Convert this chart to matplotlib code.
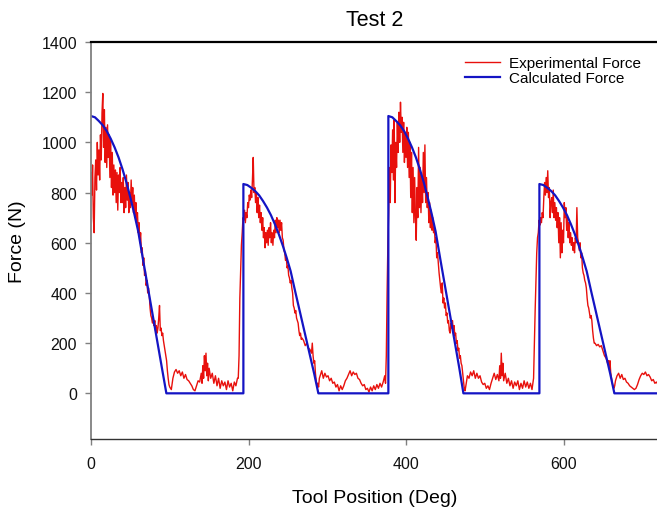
import matplotlib
matplotlib.use("Agg")
import matplotlib.pyplot as plt

plt.rcParams["font.family"] = ["Liberation Sans", "DejaVu Sans"]

# Experimental force as (tool position deg, force N)
exp_cycle1 = [
    (0, 880), (1, 790), (2, 910), (3, 700), (4, 640), (5, 860), (6, 930), (7, 810),
    (8, 1000), (9, 870), (10, 970), (11, 850), (12, 1030), (13, 930), (14, 1120),
    (15, 1195), (16, 980), (17, 1130), (18, 920), (19, 1060), (20, 900), (21, 1070),
    (22, 940), (23, 1030), (24, 860), (25, 1010), (26, 820), (27, 960), (28, 790),
    (29, 910), (30, 800), (31, 890), (32, 760), (33, 880), (34, 730), (35, 870),
    (36, 800), (37, 900), (38, 760), (39, 840), (40, 760), (41, 860), (42, 720),
    (43, 820), (44, 740), (45, 870), (46, 770), (47, 840), (48, 720), (49, 800),
    (50, 740), (51, 850), (52, 760), (53, 820), (54, 720), (55, 790), (56, 700),
    (57, 760), (58, 680), (59, 720), (60, 640), (61, 680), (62, 600), (63, 640),
    (64, 560), (65, 580), (66, 510), (67, 540), (68, 470), (69, 490), (70, 430),
    (71, 450), (72, 400), (73, 420), (74, 390), (75, 340), (76, 310), (77, 300),
    (78, 280), (79, 300), (80, 270), (81, 290), (82, 250), (83, 270), (84, 240),
    (85, 260), (86, 300), (87, 350), (88, 250), (89, 260), (90, 230), (91, 240),
    (92, 210), (93, 190), (94, 170), (95, 150), (96, 130), (97, 90), (98, 60),
    (99, 35), (100, 25), (101, 20), (102, 15),
]
exp_flat1 = [
    (104, 60), (106, 85), (108, 95), (110, 80), (112, 90), (114, 70), (116, 85),
    (118, 60), (120, 75), (122, 55), (124, 50), (126, 40), (128, 30), (130, 15),
    (132, 10), (134, 30), (136, 50), (138, 45), (140, 80), (141, 40), (142, 110),
    (143, 60), (144, 150), (145, 90), (146, 160), (147, 70), (148, 120), (149, 50),
    (150, 100), (152, 60), (154, 80), (156, 40), (158, 70), (160, 30), (162, 60),
    (164, 20), (166, 50), (168, 30), (170, 45), (172, 15), (174, 50), (176, 25),
    (178, 40), (180, 10), (182, 45), (184, 30), (186, 60),
]
exp_cycle2 = [
    (187, 60), (188, 150), (189, 380), (190, 480), (191, 590), (192, 640), (193, 700),
    (194, 690), (195, 730), (196, 680), (197, 720), (198, 700), (199, 760), (200, 740),
    (201, 790), (202, 770), (203, 810), (204, 780), (205, 850), (206, 940), (207, 800),
    (208, 820), (209, 760), (210, 800), (211, 720), (212, 780), (213, 700), (214, 750),
    (215, 680), (216, 720), (217, 650), (218, 700), (219, 620), (220, 660), (221, 580),
    (222, 640), (223, 600), (224, 650), (225, 590), (226, 660), (227, 620), (228, 680),
    (229, 600), (230, 640), (231, 590), (232, 650), (233, 620), (234, 690), (235, 640),
    (236, 700), (237, 660), (238, 690), (239, 640), (240, 690), (241, 650), (242, 680),
    (243, 620), (244, 610), (245, 570), (246, 560), (247, 530), (248, 540), (249, 500),
    (250, 510), (251, 470), (252, 460), (253, 440), (254, 450), (255, 420), (256, 400),
    (257, 350), (258, 340), (259, 320), (260, 330), (261, 300), (262, 290), (263, 280),
    (264, 250), (265, 230), (266, 240), (267, 215), (268, 220), (270, 210), (272, 190),
    (274, 200), (276, 180), (278, 175), (280, 160), (281, 200), (282, 150), (283, 120),
    (284, 130), (285, 80), (286, 50), (287, 30), (288, 40), (289, 25), (290, 60),
]
exp_flat2 = [
    (291, 70), (293, 90), (295, 60), (297, 80), (299, 65), (301, 70), (303, 50),
    (305, 60), (307, 40), (309, 45), (311, 25), (313, 35), (315, 10), (317, 30),
    (319, 15), (321, 30), (323, 50), (325, 60), (327, 75), (329, 90), (331, 70),
    (333, 85), (335, 75), (337, 80), (339, 60), (341, 55), (343, 40), (345, 30),
    (347, 35), (349, 15), (351, 20), (353, 5), (355, 25), (357, 10), (359, 30),
    (361, 15), (363, 35), (365, 20), (367, 40), (369, 25), (371, 45), (373, 70),
    (374, 40), (375, 150), (376, 400), (377, 600),
]
exp_cycle3 = [
    (378, 720), (379, 900), (380, 760), (381, 990), (382, 880), (383, 1050), (384, 850),
    (385, 1090), (386, 760), (387, 1000), (388, 900), (389, 1080), (390, 960),
    (391, 1120), (392, 1000), (393, 1160), (394, 1040), (395, 1100), (396, 960),
    (397, 1080), (398, 920), (399, 1040), (400, 940), (401, 1060), (402, 900),
    (403, 1040), (404, 860), (405, 1000), (406, 780), (407, 960), (408, 720),
    (409, 900), (410, 680), (411, 860), (412, 700), (413, 610), (414, 820), (415, 700),
    (416, 980), (417, 740), (418, 900), (419, 720), (420, 860), (421, 760), (422, 960),
    (423, 800), (424, 990), (425, 760), (426, 860), (427, 740), (428, 800), (429, 680),
    (430, 760), (431, 660), (432, 730), (433, 650), (434, 700), (435, 640), (436, 660),
    (437, 600), (438, 620), (439, 540), (440, 560), (441, 520), (442, 480), (443, 450),
    (444, 420), (445, 400), (446, 440), (447, 360), (448, 380), (449, 340), (450, 360),
    (451, 310), (452, 320), (453, 280), (454, 290), (455, 250), (456, 240), (457, 280),
    (458, 260), (459, 290), (460, 250), (461, 270), (462, 230), (463, 240), (464, 200),
    (465, 210), (466, 170), (467, 180), (468, 140), (469, 150), (470, 120), (471, 110),
    (472, 80), (473, 50), (474, 20), (475, 10), (476, 30), (477, 50), (478, 70),
]
exp_flat3 = [
    (480, 60), (482, 85), (484, 70), (486, 90), (488, 60), (490, 80), (492, 60),
    (494, 70), (496, 45), (498, 35), (500, 40), (502, 20), (504, 30), (506, 15),
    (508, 40), (510, 60), (512, 80), (514, 55), (516, 75), (518, 50), (519, 110),
    (520, 60), (521, 160), (522, 70), (523, 120), (524, 50), (526, 80), (528, 40),
    (530, 60), (532, 30), (534, 50), (536, 20), (538, 45), (540, 30), (542, 50),
    (544, 15), (546, 40), (548, 20), (550, 50), (552, 25), (554, 45), (556, 20),
    (558, 40), (560, 15), (562, 60),
]
exp_cycle4 = [
    (563, 200), (564, 330), (565, 450), (566, 560), (567, 620), (568, 640), (569, 690),
    (570, 670), (571, 700), (572, 680), (573, 720), (574, 700), (575, 780), (576, 840),
    (577, 790), (578, 860), (579, 800), (580, 887), (581, 780), (582, 820), (583, 700),
    (584, 760), (585, 780), (586, 720), (587, 810), (588, 700), (589, 760), (590, 690),
    (591, 740), (592, 660), (593, 720), (594, 600), (595, 700), (596, 540), (597, 680),
    (598, 560), (599, 650), (600, 600), (601, 760), (602, 700), (603, 740), (604, 650),
    (605, 700), (606, 620), (607, 680), (608, 600), (609, 640), (610, 590), (611, 620),
    (612, 570), (613, 600), (614, 560), (615, 620), (616, 600), (617, 740), (618, 620),
    (619, 600), (620, 570), (621, 600), (622, 540), (623, 560), (624, 500), (625, 480),
    (626, 470), (627, 450), (628, 440), (629, 420), (630, 380), (631, 350), (632, 340),
    (633, 320), (634, 300), (635, 310), (636, 290), (637, 250), (638, 220), (639, 200),
    (640, 200), (642, 190), (644, 195), (646, 185), (648, 190), (650, 170), (652, 150),
    (654, 140), (656, 120), (657, 130), (658, 100), (659, 130), (660, 80), (661, 60),
    (662, 40), (663, 25), (664, 20), (665, 30),
]
exp_flat4 = [
    (666, 50), (668, 70), (670, 80), (672, 60), (674, 75), (676, 55), (678, 60),
    (680, 45), (682, 40), (684, 30), (686, 25), (688, 20), (690, 15), (692, 20),
    (694, 35), (696, 55), (698, 70), (700, 80), (702, 75), (704, 85), (706, 70),
    (708, 75), (710, 65), (712, 50), (714, 55), (716, 40), (718, 45), (720, 35),
]

# Calculated force (deg, N)
calc_cycle1 = [
    (0, 1105), (5, 1100), (10, 1085), (15, 1068), (20, 1045), (25, 1015), (30, 980),
    (35, 940), (40, 893), (45, 840), (50, 780), (55, 715), (60, 645), (66, 534),
    (70, 462), (75, 372), (80, 282), (85, 192), (90, 102), (95.7, 0), (193.5, 0),
]
calc_cycle2 = [
    (193.5, 834), (198.5, 830), (203.5, 819), (208.5, 806), (213.5, 789), (218.5, 766),
    (223.5, 740), (228.5, 710), (233.5, 674), (238.5, 634), (243.5, 589), (248.5, 540),
    (253.5, 487), (259.5, 403), (263.5, 349), (268.5, 281), (273.5, 213), (278.5, 145),
    (283.5, 77), (288.7, 0), (377.6, 0),
]
calc_cycle3 = [
    (377.6, 1105), (382.6, 1100), (387.6, 1085), (392.6, 1068), (397.6, 1045),
    (402.6, 1015), (407.6, 980), (412.6, 940), (417.6, 893), (422.6, 840), (427.6, 780),
    (432.6, 715), (437.6, 645), (443.6, 534), (447.6, 462), (452.6, 372), (457.6, 282),
    (462.6, 192), (467.6, 102), (472.9, 0), (569.4, 0),
]
calc_cycle4 = [
    (569.4, 834), (574.4, 830), (579.4, 819), (584.4, 806), (589.4, 789), (594.4, 766),
    (599.4, 740), (604.4, 710), (609.4, 674), (614.4, 634), (619.4, 589), (624.4, 540),
    (629.4, 487), (635.4, 403), (639.4, 349), (644.4, 281), (649.4, 213), (654.4, 145),
    (659.4, 77), (664.6, 0), (720, 0),
]

exp_pts = exp_cycle1 + exp_flat1 + exp_cycle2 + exp_flat2 + exp_cycle3 + exp_flat3 + exp_cycle4 + exp_flat4
calc_pts = calc_cycle1 + calc_cycle2 + calc_cycle3 + calc_cycle4
exp_deg, exp_force = zip(*exp_pts)
calc_deg, calc_force = zip(*calc_pts)

W, H = 657, 510
fig = plt.figure(figsize=(W / 100, H / 100), dpi=100)
ax = fig.add_axes([91 / W, 1 - 440 / H, 567 / W, 397 / H])

ax.plot(exp_deg, exp_force, color="#e8100c", linewidth=1.0, label="Experimental Force")
ax.plot(calc_deg, calc_force, color="#1414c4", linewidth=1.6, label="Calculated Force")

ax.set_xlim(0, 720)
ax.set_ylim(-182, 1400)
ax.set_xticks([0, 200, 400, 600])
ax.set_yticks(range(0, 1401, 200))

ax.spines["right"].set_visible(False)
ax.spines["top"].set_color("black")
ax.spines["top"].set_linewidth(1.6)
ax.spines["left"].set_color("#808080")
ax.spines["left"].set_linewidth(1.3)
ax.spines["bottom"].set_color("#333333")
ax.spines["bottom"].set_linewidth(1.0)
ax.tick_params(axis="both", direction="out", length=4, width=1.0, color="#808080",
               labelsize=11.5, labelcolor="#111111")
ax.tick_params(axis="x", pad=8)
ax.tick_params(axis="y", pad=6)

ax.set_title("Test 2", fontsize=15.5, pad=12)
ax.set_xlabel("Tool Position (Deg)", fontsize=14, labelpad=13)
ax.set_ylabel("Force (N)", fontsize=14, labelpad=11)

ax.legend(loc="upper left", bbox_to_anchor=(0.66, 0.965), frameon=False, fontsize=11,
          handlelength=2.3, handletextpad=0.55, labelspacing=0.1, borderpad=0,
          borderaxespad=0)

fig.savefig("out.png", dpi=100)
